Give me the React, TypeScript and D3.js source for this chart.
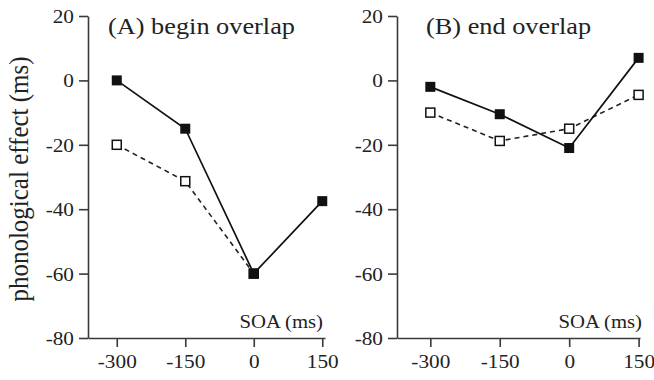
import React, { useEffect, useRef } from 'react';
import * as d3 from 'd3';

const soa = [-300, -150, 0, 150];
const yTicks = [20, 0, -20, -40, -60, -80];

const beginFilled = [0, -15, -60, -37.5];
const beginOpen = [-20, -31.3, -60];
const endFilled = [-2, -10.5, -21, 7];
const endOpen = [-10, -18.8, -15, -4.5];

const panels = [
  { title: '(A) begin overlap', left: 88, right: 325, domain: [-363, 156], titleX: 108, soaX: 323, filled: beginFilled, open: beginOpen },
  { title: '(B) end overlap', left: 397, right: 640, domain: [-372, 153], titleX: 426, soaX: 642, filled: endFilled, open: endOpen },
];

const W = 654;
const H = 380;
const TOP = 16;
const BOTTOM = 338;
const FONT = '"Liberation Serif", "DejaVu Serif", serif';
const AXIS = '#3a3a3a';
const SX = 1.12; // the type in the figure is a little wide

const App: React.FC = () => {
  const ref = useRef<SVGSVGElement>(null);

  useEffect(() => {
    const svg = d3.select(ref.current);
    svg.selectAll('*').remove();

    const y = d3.scaleLinear().domain([-80, 20]).range([BOTTOM, TOP]);

    // y axis label
    svg.append('text')
      .attr('transform', `translate(28, 179) rotate(-90) scale(1, ${SX})`)
      .attr('text-anchor', 'middle')
      .style('font-family', FONT)
      .style('font-size', '25px')
      .attr('fill', '#222')
      .text('phonological effect (ms)');

    panels.forEach(p => {
      const x = d3.scaleLinear().domain(p.domain).range([p.left, p.right]);
      const g = svg.append('g');

      const yAxis = g.append('g')
        .attr('transform', `translate(${p.left},0)`)
        .call(d3.axisLeft(y).tickValues(yTicks).tickFormat(d => String(d)).tickSize(9).tickSizeOuter(0).tickPadding(5));
      const xAxis = g.append('g')
        .attr('transform', `translate(0,${BOTTOM})`)
        .call(d3.axisBottom(x).tickValues(soa).tickFormat(d => String(d)).tickSize(9).tickSizeOuter(0).tickPadding(8));

      [yAxis, xAxis].forEach(a => {
        a.attr('font-family', null).attr('font-size', null);
        a.selectAll('path, line').attr('stroke', AXIS).attr('stroke-width', 1.6);
        a.selectAll('text')
          .style('font-family', FONT)
          .style('font-size', '19px')
          .attr('fill', '#222');
      });
      yAxis.selectAll('text')
        .attr('dy', '0.34em')
        .attr('x', -14 / SX)
        .attr('transform', `scale(${SX},1)`);
      xAxis.selectAll('text')
        .attr('transform', `scale(${SX},1)`);

      g.append('text')
        .attr('transform', `translate(${p.titleX},34) scale(${SX},1)`)
        .style('font-family', FONT)
        .style('font-size', '23.5px')
        .attr('fill', '#222')
        .text(p.title);

      g.append('text')
        .attr('transform', `translate(${p.soaX},328) scale(${SX},1)`)
        .attr('text-anchor', 'end')
        .style('font-family', FONT)
        .style('font-size', '18.5px')
        .attr('fill', '#222')
        .text('SOA (ms)');

      const line = d3.line<number>()
        .x((_, i) => x(soa[i]))
        .y(d => y(d));

      g.append('path')
        .attr('d', line(p.open))
        .attr('fill', 'none')
        .attr('stroke', '#222')
        .attr('stroke-width', 1.6)
        .attr('stroke-dasharray', '5,4');

      g.selectAll('.open')
        .data(p.open)
        .enter()
        .append('rect')
        .attr('x', (_, i) => x(soa[i]) - 4.5)
        .attr('y', d => y(d) - 4.5)
        .attr('width', 9)
        .attr('height', 9)
        .attr('fill', 'white')
        .attr('stroke', '#111')
        .attr('stroke-width', 1.5);

      g.append('path')
        .attr('d', line(p.filled))
        .attr('fill', 'none')
        .attr('stroke', '#111')
        .attr('stroke-width', 1.7);

      g.selectAll('.filled')
        .data(p.filled)
        .enter()
        .append('rect')
        .attr('x', (_, i) => x(soa[i]) - 5)
        .attr('y', d => y(d) - 5)
        .attr('width', 10)
        .attr('height', 10)
        .attr('fill', '#111');
    });
  }, []);

  return (
    <svg
      ref={ref}
      width={W}
      height={H}
      style={{ position: 'absolute', left: 0, top: 0, background: 'white' }}
    />
  );
};

export default App;
